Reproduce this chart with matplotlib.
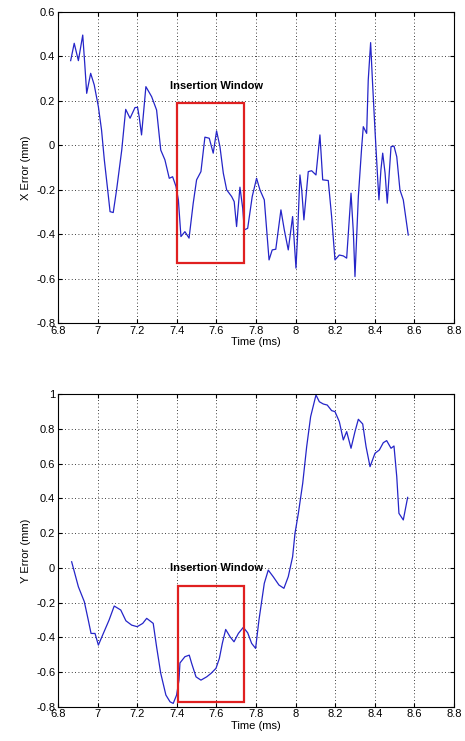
import matplotlib.pyplot as plt
from matplotlib.patches import Rectangle

plt.rcParams["font.family"] = ["Liberation Sans", "DejaVu Sans"]

# top panel: X error
x_time = [6.864, 6.882, 6.903, 6.925, 6.935, 6.945, 6.965, 6.983, 7.004, 7.02,
          7.034, 7.051, 7.063, 7.079, 7.096, 7.122, 7.142, 7.164, 7.189, 7.202,
          7.21, 7.222, 7.244, 7.273, 7.298, 7.319, 7.34, 7.362, 7.379, 7.396,
          7.408, 7.421, 7.441, 7.462, 7.483, 7.5, 7.522, 7.542, 7.564, 7.584,
          7.601, 7.618, 7.635, 7.652, 7.677, 7.69, 7.702, 7.719, 7.733, 7.741,
          7.758, 7.781, 7.803, 7.82, 7.842, 7.866, 7.882, 7.9, 7.926, 7.943,
          7.963, 7.985, 8.002, 8.009, 8.022, 8.031, 8.042, 8.064, 8.081, 8.103,
          8.123, 8.137, 8.165, 8.182, 8.199, 8.221, 8.241, 8.258, 8.28, 8.292,
          8.3, 8.317, 8.334, 8.342, 8.359, 8.367, 8.379, 8.388, 8.401, 8.415,
          8.421, 8.431, 8.44, 8.452, 8.463, 8.482, 8.497, 8.511, 8.527, 8.544,
          8.569]
x_err = [0.38, 0.458, 0.38, 0.495, 0.368, 0.233, 0.323, 0.271, 0.173, 0.068,
         -0.066, -0.201, -0.299, -0.303, -0.201, -0.022, 0.161, 0.121, 0.169, 0.17,
         0.128, 0.046, 0.263, 0.218, 0.158, -0.022, -0.066, -0.149, -0.142, -0.186,
         -0.246, -0.411, -0.389, -0.418, -0.261, -0.156, -0.119, 0.036, 0.031, -0.036,
         0.064, -0.007, -0.126, -0.201, -0.231, -0.254, -0.366, -0.189, -0.284, -0.381,
         -0.374, -0.231, -0.149, -0.201, -0.246, -0.516, -0.471, -0.468, -0.291, -0.381,
         -0.471, -0.321, -0.553, -0.426, -0.134, -0.201, -0.336, -0.119, -0.115, -0.134,
         0.046, -0.156, -0.159, -0.321, -0.516, -0.494, -0.498, -0.508, -0.216, -0.396,
         -0.591, -0.231, -0.007, 0.083, 0.053, 0.293, 0.461, 0.293, 0.068, -0.156,
         -0.246, -0.111, -0.036, -0.126, -0.261, -0.007, -0.004, -0.052, -0.201, -0.246,
         -0.404]

# bottom panel: Y error
y_time = [6.869, 6.903, 6.933, 6.953, 6.967, 6.987, 7.004, 7.029, 7.058, 7.084,
          7.117, 7.143, 7.172, 7.2, 7.228, 7.248, 7.281, 7.298, 7.319, 7.345,
          7.366, 7.382, 7.399, 7.411, 7.416, 7.441, 7.463, 7.475, 7.497, 7.522,
          7.551, 7.573, 7.598, 7.615, 7.63, 7.647, 7.669, 7.689, 7.711, 7.736,
          7.758, 7.778, 7.798, 7.815, 7.842, 7.862, 7.887, 7.916, 7.941, 7.963,
          7.985, 7.997, 8.014, 8.036, 8.056, 8.076, 8.103, 8.12, 8.14, 8.16,
          8.182, 8.199, 8.221, 8.241, 8.258, 8.28, 8.3, 8.317, 8.339, 8.356,
          8.376, 8.401, 8.423, 8.443, 8.46, 8.482, 8.497, 8.511, 8.522, 8.544,
          8.566]
y_err = [0.035, -0.109, -0.195, -0.301, -0.378, -0.378, -0.445, -0.378, -0.301, -0.22,
         -0.243, -0.305, -0.33, -0.339, -0.32, -0.291, -0.32, -0.455, -0.608, -0.733,
         -0.772, -0.781, -0.733, -0.647, -0.548, -0.512, -0.503, -0.55, -0.628, -0.647,
         -0.628, -0.608, -0.579, -0.522, -0.435, -0.355, -0.397, -0.426, -0.378, -0.343,
         -0.374, -0.435, -0.464, -0.301, -0.089, -0.013, -0.051, -0.099, -0.118, -0.051,
         0.064, 0.199, 0.314, 0.487, 0.698, 0.871, 0.996, 0.957, 0.944, 0.938,
         0.906, 0.9, 0.842, 0.737, 0.785, 0.689, 0.785, 0.856, 0.829, 0.698,
         0.583, 0.66, 0.679, 0.721, 0.733, 0.689, 0.702, 0.525, 0.314, 0.276,
         0.406]

x_ticks = [6.8, 7, 7.2, 7.4, 7.6, 7.8, 8, 8.2, 8.4, 8.6, 8.8]
x_ticklabels = ["6.8", "7", "7.2", "7.4", "7.6", "7.8", "8", "8.2", "8.4", "8.6", "8.8"]
top_yticks = [-0.8, -0.6, -0.4, -0.2, 0, 0.2, 0.4, 0.6]
bot_yticks = [-0.8, -0.6, -0.4, -0.2, 0, 0.2, 0.4, 0.6, 0.8, 1]

# insertion window boxes (x0, x1, y0, y1)
top_box = (7.4, 7.74, -0.531, 0.188)
bot_box = (7.405, 7.74, -0.772, -0.105)

fig = plt.figure(figsize=(4.65, 7.41), dpi=100)
ax1 = fig.add_axes([0.1247, 0.564, 0.8516, 0.4202])
ax2 = fig.add_axes([0.1247, 0.0463, 0.8516, 0.4216])


def style(ax, yticks, ylim, ylabel):
    ax.set_xlim(6.8, 8.8)
    ax.set_ylim(*ylim)
    ax.set_xticks(x_ticks)
    ax.set_xticklabels(x_ticklabels)
    ax.set_yticks(yticks)
    ax.set_yticklabels(["0" if v == 0 else f"{v:g}" for v in yticks])
    ax.grid(True, color="black", linestyle=(0, (1, 3)), linewidth=0.6)
    ax.tick_params(direction="in", top=True, right=True, labelsize=8, length=3,
                   pad=2)
    for s in ax.spines.values():
        s.set_linewidth(0.8)
    ax.set_xlabel("Time (ms)", fontsize=8, labelpad=1)
    ax.set_ylabel(ylabel, fontsize=8, labelpad=4)


def box(ax, b):
    x0, x1, y0, y1 = b
    ax.add_patch(Rectangle((x0, y0), x1 - x0, y1 - y0, fill=False,
                           edgecolor="#e02020", linewidth=1.6, zorder=3))


ax1.plot(x_time, x_err, color="#2525c8", linewidth=0.9)
style(ax1, top_yticks, (-0.8, 0.6), "X Error (mm)")
box(ax1, top_box)
ax1.text(7.6, 0.267, "Insertion Window", ha="center", va="center",
         fontsize=8, fontweight="bold")

ax2.plot(y_time, y_err, color="#2525c8", linewidth=0.9)
style(ax2, bot_yticks, (-0.8, 1.0), "Y Error (mm)")
box(ax2, bot_box)
ax2.text(7.6, 0.0, "Insertion Window", ha="center", va="center",
         fontsize=8, fontweight="bold")

fig.savefig("out.png", dpi=100)
